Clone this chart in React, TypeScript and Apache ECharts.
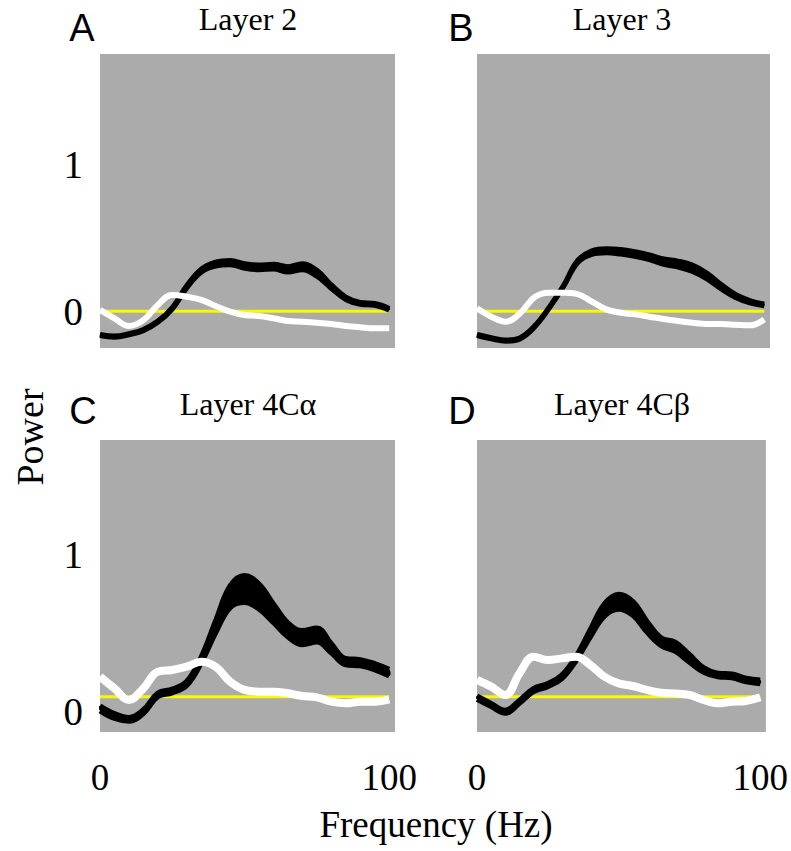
import React, { useEffect, useRef } from 'react';
import * as echarts from 'echarts';

// Frequency samples (Hz)
const hz = [0, 5, 10, 15, 20, 25, 30, 35, 40, 45, 50, 55, 60, 65, 70, 75, 80, 85, 90, 95, 100];

// Panel titles / letters
const panelLetters = ['A', 'B', 'C', 'D'];
const panelTitles = ['Layer 2', 'Layer 3', 'Layer 4C\u03b1', 'Layer 4C\u03b2'];

// Black band (mean and half-width)
const blackA = [-0.162, -0.173, -0.157, -0.128, -0.071, 0.02, 0.167, 0.276, 0.321, 0.331, 0.308, 0.299, 0.303, 0.285, 0.303, 0.258, 0.167, 0.088, 0.054, 0.047, 0.013];
const semA = [0.004, 0.004, 0.004, 0.004, 0.004, 0.005, 0.008, 0.01, 0.013, 0.015, 0.015, 0.016, 0.016, 0.018, 0.02, 0.02, 0.012, 0.008, 0.006, 0.006, 0.006];
const whiteA = [0.009, -0.048, -0.1, -0.06, 0.043, 0.111, 0.099, 0.077, 0.036, -0.003, -0.026, -0.032, -0.048, -0.066, -0.071, -0.078, -0.087, -0.1, -0.109, -0.116, -0.116];

const blackB = [-0.162, -0.184, -0.2, -0.184, -0.105, 0.02, 0.167, 0.337, 0.399, 0.412, 0.405, 0.389, 0.367, 0.337, 0.321, 0.292, 0.24, 0.167, 0.104, 0.065, 0.043];
const semB = [0.004, 0.004, 0.004, 0.004, 0.004, 0.004, 0.004, 0.008, 0.012, 0.014, 0.016, 0.016, 0.016, 0.018, 0.02, 0.022, 0.02, 0.015, 0.01, 0.008, 0.006];
const whiteB = [0.02, -0.037, -0.071, -0.014, 0.095, 0.126, 0.126, 0.117, 0.065, 0.013, -0.01, -0.021, -0.037, -0.053, -0.066, -0.078, -0.087, -0.087, -0.092, -0.096, -0.055];

const blackC = [0.021, -0.028, -0.049, 0.0, 0.106, 0.131, 0.18, 0.329, 0.541, 0.732, 0.781, 0.732, 0.626, 0.52, 0.471, 0.488, 0.403, 0.318, 0.311, 0.286, 0.248];
const semC = [0.016, 0.016, 0.012, 0.012, 0.012, 0.012, 0.014, 0.02, 0.04, 0.07, 0.086, 0.08, 0.06, 0.045, 0.045, 0.045, 0.03, 0.02, 0.02, 0.02, 0.022];
const whiteC = [0.222, 0.148, 0.074, 0.148, 0.254, 0.265, 0.286, 0.318, 0.286, 0.191, 0.138, 0.127, 0.127, 0.117, 0.099, 0.091, 0.063, 0.053, 0.063, 0.063, 0.078];

const blackD = [0.089, 0.042, -0.001, 0.063, 0.138, 0.169, 0.222, 0.339, 0.499, 0.647, 0.7, 0.658, 0.541, 0.445, 0.413, 0.339, 0.265, 0.233, 0.227, 0.201, 0.19];
const semD = [0.01, 0.01, 0.01, 0.01, 0.01, 0.01, 0.012, 0.015, 0.025, 0.04, 0.048, 0.045, 0.035, 0.025, 0.03, 0.025, 0.015, 0.012, 0.012, 0.012, 0.012];
const whiteD = [0.201, 0.159, 0.106, 0.244, 0.35, 0.329, 0.339, 0.35, 0.297, 0.222, 0.18, 0.163, 0.138, 0.12, 0.116, 0.106, 0.074, 0.053, 0.063, 0.068, 0.091];

// Yellow reference level per panel
const baseLevels = [0, 0, 0.095, 0.095];

// Axis tick labels
const xTickValues = [0, 100];
const yTickValues = [0, 1];

const blacks = [blackA, blackB, blackC, blackD];
const sems = [semA, semB, semC, semD];
const whites = [whiteA, whiteB, whiteC, whiteD];

const SERIF = '"Liberation Serif", "Times New Roman", serif';
const SANS = '"Liberation Sans", Arial, sans-serif';
const SMOOTH = 0.4;

export default function App() {
  const ref = useRef<HTMLDivElement>(null);

  useEffect(() => {
    if (!ref.current) return;
    const chart = echarts.init(ref.current, undefined, { renderer: 'svg' });

    const grids = [
      { left: 100, top: 54, width: 295, height: 294 },
      { left: 477, top: 54, width: 293, height: 294 },
      { left: 100, top: 440, width: 295, height: 292 },
      { left: 477, top: 440, width: 293, height: 292 },
    ];
    const yRanges = [
      [-0.25, 1.75],
      [-0.25, 1.75],
      [-0.13, 1.73],
      [-0.13, 1.73],
    ];
    const whiteWidths = [6, 6, 8, 8];

    const series: any[] = [];
    for (let i = 0; i < 4; i++) {
      const common = {
        xAxisIndex: i,
        yAxisIndex: i,
        silent: true,
      };
      const lower = hz.map((h, k) => blacks[i][k] - sems[i][k]);
      const upper = hz.map((h, k) => blacks[i][k] + sems[i][k]);
      // yellow reference line
      series.push({
        ...common,
        type: 'line',
        symbol: 'none',
        data: hz.map((h) => [h, baseLevels[i]]),
        lineStyle: { color: '#f8f800', width: 3 },
      });
      // black band fill
      series.push({
        ...common,
        type: 'custom',
        coordinateSystem: 'cartesian2d',
        data: hz.map((h, k) => [h, lower[k], upper[k]]),
        encode: { x: 0, y: [1, 2] },
        renderItem: (params: any, api: any) => {
          if (params.dataIndex !== 0) return null;
          const pts: number[][] = [];
          for (let k = 0; k < hz.length; k++) pts.push(api.coord([hz[k], upper[k]]));
          for (let k = hz.length - 1; k >= 0; k--) pts.push(api.coord([hz[k], lower[k]]));
          return {
            type: 'polygon',
            shape: { points: pts, smooth: SMOOTH },
            style: { fill: '#000', stroke: 'none' },
          };
        },
      });
      // band edges
      series.push({
        ...common,
        type: 'line',
        symbol: 'none',
        smooth: SMOOTH,
        data: hz.map((h, k) => [h, lower[k]]),
        lineStyle: { color: '#000', width: 5 },
      });
      series.push({
        ...common,
        type: 'line',
        symbol: 'none',
        smooth: SMOOTH,
        data: hz.map((h, k) => [h, upper[k]]),
        lineStyle: { color: '#000', width: 5 },
      });
      // white curve
      series.push({
        ...common,
        type: 'line',
        symbol: 'none',
        smooth: SMOOTH,
        data: hz.map((h, k) => [h, whites[i][k]]),
        lineStyle: { color: '#fff', width: whiteWidths[i] },
      });
    }

    const graphic: any[] = [];
    const letterPos = [
      [82, 28],
      [461, 28],
      [83, 411],
      [462, 411],
    ];
    const titlePos = [
      [248, 19],
      [622, 19],
      [248, 404],
      [622, 404],
    ];
    const txt = (text: string, font: string) => ({
      text,
      font,
      fill: '#000',
      align: 'center',
      verticalAlign: 'middle',
      textAlign: 'center',
      textVerticalAlign: 'middle',
    });
    for (let i = 0; i < 4; i++) {
      graphic.push({
        type: 'text',
        x: letterPos[i][0],
        y: letterPos[i][1],
        style: txt(panelLetters[i], '38px ' + SANS),
      });
      graphic.push({
        type: 'text',
        x: titlePos[i][0],
        y: titlePos[i][1],
        style: txt(panelTitles[i], '32px ' + SERIF),
      });
    }
    graphic.push({
      type: 'text',
      x: 30,
      y: 437,
      rotation: Math.PI / 2,
      style: txt('Power', '38px ' + SERIF),
    });
    graphic.push({
      type: 'text',
      x: 436,
      y: 824,
      style: txt('Frequency (Hz)', '37px ' + SERIF),
    });

    chart.setOption({
      animation: false,
      backgroundColor: '#fff',
      grid: grids.map((g) => ({
        ...g,
        show: true,
        backgroundColor: '#ababab',
        borderWidth: 0,
        containLabel: false,
      })),
      xAxis: grids.map((_, i) => ({
        type: 'value',
        gridIndex: i,
        min: 0,
        max: 102,
        axisLine: { show: false },
        axisTick: { show: false },
        splitLine: { show: false },
        axisLabel: {
          show: i >= 2,
          customValues: xTickValues,
          formatter: (v: number) => (xTickValues.includes(v) ? String(v) : ''),
          fontSize: 37,
          fontFamily: SERIF,
          color: '#000',
          margin: 27,
        },
      })),
      yAxis: grids.map((_, i) => ({
        type: 'value',
        gridIndex: i,
        min: yRanges[i][0],
        max: yRanges[i][1],
        axisLine: { show: false },
        axisTick: { show: false },
        splitLine: { show: false },
        axisLabel: {
          show: i === 0 || i === 2,
          customValues: yTickValues,
          formatter: (v: number) => (yTickValues.includes(v) ? String(v) : ''),
          fontSize: 39,
          fontFamily: SERIF,
          color: '#000',
          margin: 17,
        },
      })),
      series,
      graphic,
    });

    return () => chart.dispose();
  }, []);

  return (
    <div
      ref={ref}
      style={{ position: 'fixed', left: 0, top: 0, width: 791, height: 851 }}
    />
  );
}
